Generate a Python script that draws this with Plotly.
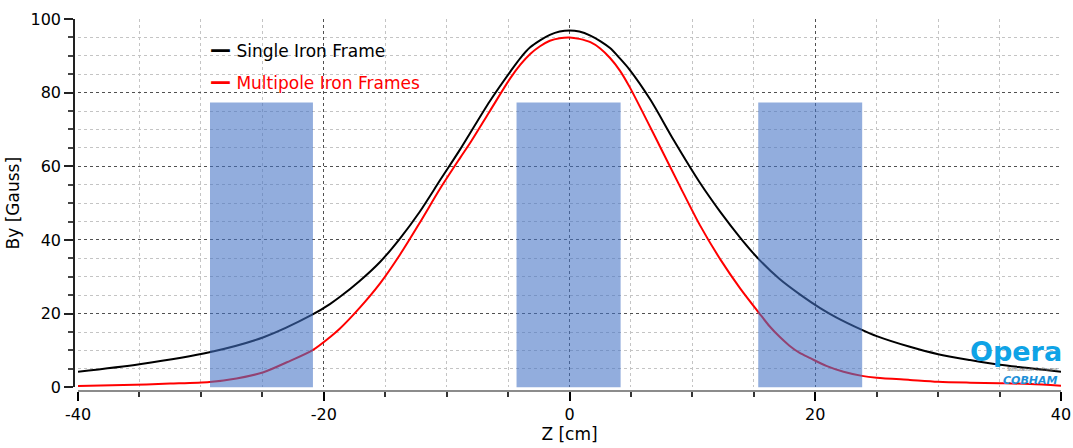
import plotly.graph_objects as go

# ---- data ----
z_single = [-40, -35, -29.3, -24.9, -20.9, -19.5, -18.7, -17.1, -15.4, -13.8, -12.2, -10.5, -8.9,
            -6.5, -4.8, -4.0, -3.2, -2.4, -1.6, -0.8, 0, 0.8, 1.7, 2.5, 3.3, 4.1, 4.9, 6.6, 8.5, 10.6,
            12.3, 13.9, 15.4, 17.1, 18.8, 20.4, 21.7, 23.8, 25, 27.7, 30, 32.6, 35, 37.5, 40]
b_single = [4.2, 6.25, 9.5, 13.6, 19.8, 22.6, 24.5, 28.8, 34.1, 40.4, 47.6, 56.4, 64.6,
            77.6, 85.8, 89.4, 92.3, 94.2, 95.7, 96.6, 96.9, 96.6, 95.5, 94.0, 92.1, 89.3, 86.2, 78.0, 67.0, 55.6,
            47.5, 40.6, 34.8, 29.4, 25.1, 21.5, 19.0, 15.6, 13.9, 11.0, 9.0, 7.4, 6.1, 5.2, 4.2]

z_multi = [-40, -36.3, -32.5, -29.3, -27.1, -24.9, -23.0, -20.9, -19.5, -18.7, -17.1, -15.4, -13.8,
           -12.2, -10.5, -8.9, -8.0, -6.5, -4.8, -4.0, -3.2, -2.4, -1.6, -0.8, 0, 0.8, 1.7, 2.5, 3.3,
           4.1, 4.9, 7.3, 9.0, 10.6, 12.3, 13.9, 15.4, 16.3, 17.1, 17.9, 18.7, 19.6, 20.9, 22.3, 23.8,
           25, 27.7, 30, 32.6, 35, 37.5, 40]
b_multi = [0.35, 0.6, 1.0, 1.45, 2.4, 4.1, 6.8, 10.1, 13.6, 15.9, 21.5, 28.3, 36.0,
           44.6, 54.1, 62.3, 66.8, 74.9, 84.0, 87.6, 90.5, 92.6, 94.1, 94.8, 95.0, 94.6, 93.7, 92.0, 89.4,
           86.0, 81.5, 65.8, 54.5, 44.1, 34.6, 26.8, 20.3, 16.5, 13.7, 11.3, 9.4, 7.9, 5.8, 4.2, 3.1,
           2.6, 2.0, 1.5, 1.25, 1.1, 0.9, 0.45]

frame_left = [-29.26, -4.31, 15.36]
frame_right = [-20.88, 4.16, 23.82]
frame_height = [77.3, 77.3, 77.3]

series_names = ["Single Iron Frame", "Multipole Iron Frames"]
x_ticks = [-40, -20, 0, 20, 40]
y_ticks = [0, 20, 40, 60, 80, 100]

FONT = "DejaVu Sans"

# rectangles of the iron frames as one filled outline (drawn above the curves)
rect_x, rect_y = [], []
for a, b, h in zip(frame_left, frame_right, frame_height):
    rect_x += [a, a, b, b, a, None]
    rect_y += [-2, h, h, -2, -2, None]

fig = go.Figure()
fig.add_trace(go.Scatter(x=z_single, y=b_single, mode="lines", name=series_names[0],
                         line=dict(color="#000000", width=2, shape="spline", smoothing=0.8),
                         showlegend=False))
fig.add_trace(go.Scatter(x=z_multi, y=b_multi, mode="lines", name=series_names[1],
                         line=dict(color="#FF0000", width=2, shape="spline", smoothing=0.8),
                         showlegend=False))
fig.add_trace(go.Scatter(x=rect_x, y=rect_y, mode="lines", fill="toself",
                         fillcolor="rgba(68,114,196,0.58)", line=dict(width=0, color="rgba(0,0,0,0)"),
                         showlegend=False, name="Iron frames", hoverinfo="skip"))

# legend drawn as text lines
dash = "<span style='font-size:21px'><b>—</b></span> "
fig.add_annotation(x=-29.45, y=91.7, xref="x", yref="y", xanchor="left", yanchor="middle",
                   text=dash + series_names[0], showarrow=False,
                   font=dict(family=FONT, size=17, color="#000000"))
fig.add_annotation(x=-29.45, y=82.8, xref="x", yref="y", xanchor="left", yanchor="middle",
                   text=dash + series_names[1], showarrow=False,
                   font=dict(family=FONT, size=17, color="#FF0000"))

# Opera / Cobham logo text
fig.add_annotation(x=36.3, y=9.8, xref="x", yref="y", xanchor="center", yanchor="middle",
                   text="<b>Opera</b>", showarrow=False,
                   font=dict(family=FONT, size=27, color="#0FA3E6"))
fig.add_annotation(x=37.6, y=5.0, xref="x", yref="y", xanchor="center", yanchor="middle",
                   text="Simulation Software", showarrow=False,
                   font=dict(family=FONT, size=5, color="#666666"))
fig.add_annotation(x=37.5, y=1.9, xref="x", yref="y", xanchor="center", yanchor="middle",
                   text="<b><i>COBHAM</i></b>", showarrow=False,
                   font=dict(family=FONT, size=11, color="#1E90D8"))

fig.update_layout(
    width=1073, height=448,
    margin=dict(l=74, r=12, t=19, b=57, autoexpand=False),
    paper_bgcolor="white", plot_bgcolor="white",
    font=dict(family=FONT, size=16, color="#000000"),
    xaxis=dict(
        range=[-40, 40], domain=[4 / 987, 1], anchor="free", position=0, automargin=False,
        tickmode="array", tickvals=x_ticks, ticktext=[str(v) for v in x_ticks],
        showline=True, linecolor="#8c8c8c", linewidth=2,
        ticks="outside", ticklen=9, tickcolor="#000000", tickwidth=1.5,
        showgrid=True, gridcolor="#505050", griddash="dot", gridwidth=1,
        zeroline=False,
        minor=dict(dtick=5, tick0=0, ticks="outside", ticklen=5, tickcolor="#333333",
                   showgrid=True, gridcolor="#c4c4c4", griddash="dot", gridwidth=1),
        tickfont=dict(family=FONT, size=16),
        title=dict(text="Z [cm]", font=dict(family=FONT, size=17), standoff=4),
    ),
    yaxis=dict(
        range=[0, 100], domain=[3.7 / 372, 1], anchor="free", position=0, automargin=False,
        tickmode="array", tickvals=y_ticks, ticktext=[str(v) for v in y_ticks],
        showline=True, linecolor="#222222", linewidth=1.5,
        ticks="outside", ticklen=9, tickcolor="#222222", tickwidth=1.5,
        showgrid=True, gridcolor="#505050", griddash="dot", gridwidth=1,
        zeroline=False,
        minor=dict(dtick=5, tick0=0, ticks="outside", ticklen=5, tickcolor="#444444",
                   showgrid=True, gridcolor="#c4c4c4", griddash="dot", gridwidth=1),
        tickfont=dict(family=FONT, size=16),
        title=dict(text="By [Gauss]", font=dict(family=FONT, size=17), standoff=6),
    ),
)

fig.write_html("out.html", config={"displayModeBar": False},
               post_script="document.body.style.margin='0';document.body.style.overflow='hidden';")
